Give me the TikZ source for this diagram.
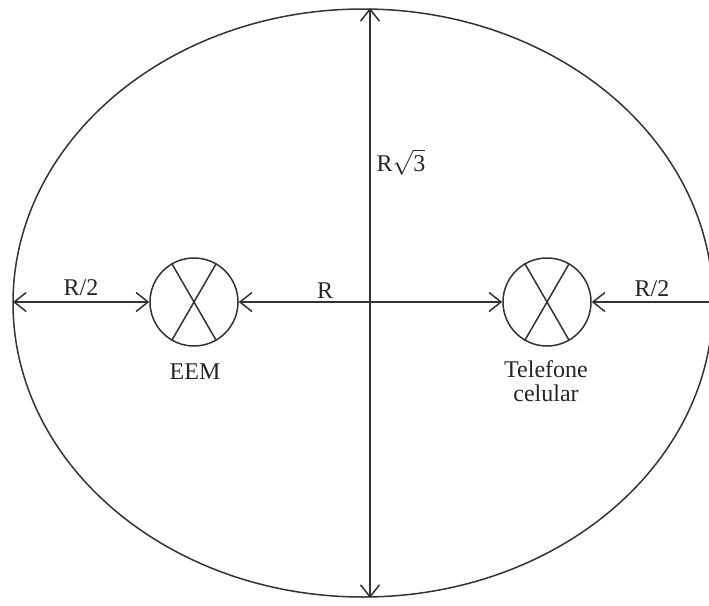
\documentclass[tikz,border=0pt]{standalone}
\usepackage{fontspec}
\setmainfont{Liberation Serif}
\usetikzlibrary{arrows.meta}
\begin{document}
\begin{tikzpicture}[x=1pt,y=-1pt,line width=1.5pt,draw={black!80},
  tipa/.tip={Straight Barb[length=12pt,width=19pt]},
  dim/.style={draw={black!80}},
  lbl/.style={font=\fontsize{24}{27}\selectfont,text=black!85,inner sep=0pt},
  xcirc/.style={circle,draw={black!80},minimum size=88pt,inner sep=0pt}]
\clip (0,0) rectangle (709,605);
\fill[white] (0,0) rectangle (709,605);
\draw (363,303) ellipse [x radius=350, y radius=294];
% emitters
\node[xcirc] (eem) at (194,302) {};
\node[xcirc] (tel) at (547,302) {};
\draw (eem.120) -- (eem.-60);
\draw (eem.60) -- (eem.240);
\draw (tel.120) -- (tel.-60);
\draw (tel.60) -- (tel.240);
% coordinates
\coordinate (L) at (13,302);
\coordinate (Rr) at (713,302);
\coordinate (T) at (370,8);
\coordinate (B) at (370,598);
% dimension arrows
\draw[dim,tipa-tipa] (L) -- (eem.west);
\draw[dim,tipa-tipa] (eem.east) -- (tel.west);
\draw[dim,-tipa] (Rr) -- (tel.east);
\draw[dim,tipa-tipa] (T) -- (B);
% labels
\node[lbl] (l1) at (81,288) {R/2};
\node[lbl] (l2) at (325,291) {R};
\node[lbl] (l3) at (652,289) {R/2};
\node[lbl] (l4) at (401,162) {R$\sqrt{\hbox{3}}$};
\node[lbl] (l5) at (195,372) {EEM};
\node[lbl,align=center] (l6) at (546,381) {Telefone\\[-3pt]celular};
\end{tikzpicture}
\end{document}
